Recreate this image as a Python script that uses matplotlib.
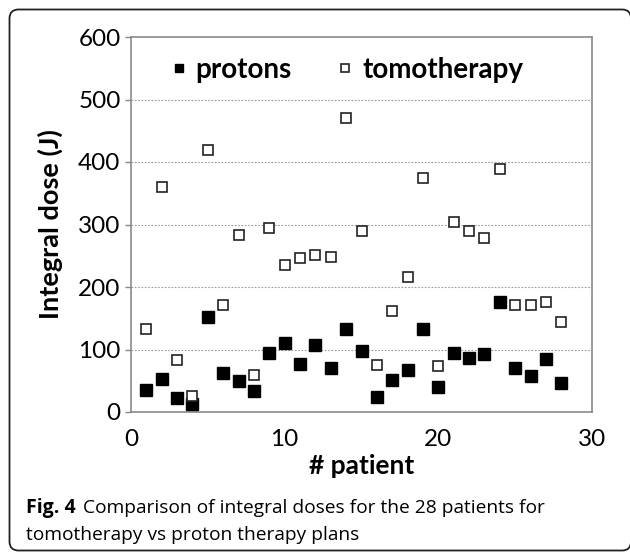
import matplotlib
matplotlib.use("Agg")
import matplotlib.pyplot as plt
from matplotlib.patches import FancyBboxPatch
from matplotlib.transforms import IdentityTransform

patients = list(range(1, 29))
protons = [36, 53, 22, 13, 152, 62, 50, 34, 94, 110, 77, 107, 70, 133,
           97, 24, 51, 67, 133, 40, 94, 86, 93, 176, 71, 57, 85, 47]
tomotherapy = [133, 360, 83, 26, 420, 171, 283, 59, 295, 236, 246, 252, 248, 471,
               290, 76, 162, 216, 375, 74, 304, 290, 279, 389, 171, 172, 176, 144]
yticks = [0, 100, 200, 300, 400, 500, 600]
xticks = [0, 10, 20, 30]

plt.rcParams['font.family'] = ['Lato', 'DejaVu Sans']

fig = plt.figure(figsize=(6.3, 5.52), dpi=100)
ax = fig.add_axes([131/630, 1-412/552, (592-131)/630, (412-37)/552])

ax.plot(patients, protons, linestyle='none', marker='s', markersize=8.5,
        markerfacecolor='black', markeredgecolor='black', label='protons', zorder=3)
ax.plot(patients, tomotherapy, linestyle='none', marker='s', markersize=7.4,
        markerfacecolor='white', markeredgecolor='#222222', markeredgewidth=1.2,
        label='tomotherapy', zorder=3)

ax.set_xlim(0, 30)
ax.set_ylim(0, 600)
ax.set_xticks(xticks)
ax.set_yticks(yticks)
ax.tick_params(axis='y', labelsize=17.5, length=4.5, width=1, color='#888888', pad=3)
ax.tick_params(axis='x', labelsize=17.5, length=0, pad=12)
for sp in ax.spines.values():
    sp.set_color('#8a8a8a')
    sp.set_linewidth(1.2)
for v in yticks[1:-1]:
    ax.axhline(v, color='#999999', linewidth=0.8, linestyle=(0, (1.5, 1.5)), zorder=1)

ax.set_xlabel('# patient', fontsize=19, fontweight='bold', labelpad=3)
ax.set_ylabel('Integral dose (J)', fontsize=19.5, fontweight='bold', labelpad=11)

leg = ax.legend(loc='center', bbox_to_anchor=(0.471, 0.912), ncol=2, frameon=False,
                prop={'weight': 'bold', 'size': 20}, handletextpad=0.4,
                columnspacing=1.73, markerscale=0.72, handlelength=0.4)

cap_font = ['Open Sans', 'DejaVu Sans']
fig.text(26/630, 1-513/552, 'Fig. 4', fontsize=14, fontweight='bold', va='baseline',
         family=cap_font)
fig.text(83/630, 1-513/552, 'Comparison of integral doses for the 28 patients for',
         fontsize=13.8, va='baseline', family=cap_font)
fig.text(26/630, 1-539.5/552, 'tomotherapy vs proton therapy plans',
         fontsize=13.8, va='baseline', family=cap_font)

box = FancyBboxPatch((9.5, 1.5), 621.5, 541,
                     boxstyle='round,pad=0,rounding_size=9',
                     transform=IdentityTransform(), fill=False, edgecolor='#222222',
                     linewidth=1.3)
fig.patches.append(box)

fig.savefig('out.png', dpi=100)
